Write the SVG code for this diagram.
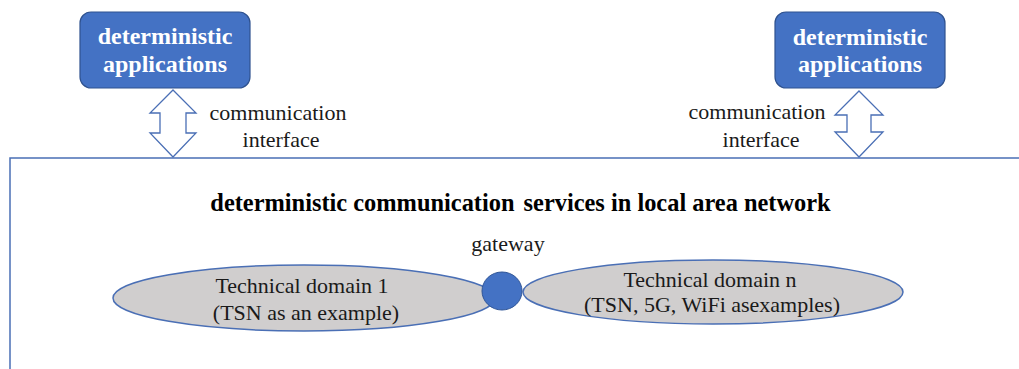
<svg xmlns="http://www.w3.org/2000/svg" width="1019" height="369" viewBox="0 0 1019 369">
  <style>
    text { font-family: "Liberation Serif", "DejaVu Serif", serif; }
    .app { fill: #4472C4; stroke: #2F528F; stroke-width: 1.2; }
    .app-text { font-weight: bold; font-size: 24px; fill: #FFFFFF; text-anchor: middle; }
    .label { font-size: 22px; fill: #1a1a1a; text-anchor: middle; }
    .title { font-weight: bold; font-size: 24.4px; fill: #000000; text-anchor: middle; }
    .iface { fill: #FFFFFF; stroke: #4A6FB5; stroke-width: 1.3; stroke-linejoin: miter; }
    .domain { fill: #D0CECE; stroke: #4A6FB5; stroke-width: 1.5; }
    .gw { fill: #4472C4; stroke: #2F5597; stroke-width: 1; }
    .frame { fill: none; stroke: #4A6FB5; stroke-width: 1.5; }
  </style>

  <!-- local area network frame (open at right and bottom) -->
  <g id="lan">
    <path class="frame" d="M1019,158 L10,158 L10,369"/>
    <text class="title" x="520.5" y="211">deterministic communication <tspan dx="3">services in local area network</tspan></text>
  </g>

  <!-- application nodes -->
  <g id="app-left">
    <rect class="app" x="80" y="12" width="170" height="76" rx="11"/>
    <text class="app-text" x="165" y="44">deterministic</text>
    <text class="app-text" x="165" y="72">applications</text>
  </g>
  <g id="app-right">
    <rect class="app" x="775" y="12" width="170" height="76" rx="11"/>
    <text class="app-text" x="860" y="45">deterministic</text>
    <text class="app-text" x="860" y="72">applications</text>
  </g>

  <!-- communication interface connectors -->
  <g id="connectors">
    <path class="iface" d="M173,90 L196,113 L186,113 L186,133 L196,133 L173,157 L150,133 L160,133 L160,113 L150,113 Z"/>
    <path class="iface" d="M859,91 L883,115 L871,115 L871,132 L883,132 L859,157 L835,132 L847,132 L847,115 L835,115 Z"/>
    <text class="label" x="278" y="120">communication</text>
    <text class="label" x="281" y="147">interface</text>
    <text class="label" x="757" y="119">communication</text>
    <text class="label" x="761" y="147">interface</text>
  </g>

  <!-- technical domains -->
  <g id="domain-1">
    <ellipse class="domain" cx="304" cy="298" rx="191" ry="33"/>
    <text class="label" x="302" y="293">Technical domain 1</text>
    <text class="label" x="306" y="320">(TSN as an example)</text>
  </g>
  <g id="domain-n">
    <ellipse class="domain" cx="713" cy="292" rx="190" ry="32"/>
    <text class="label" x="710" y="287">Technical domain n</text>
    <text class="label" x="712" y="312">(TSN, 5G, WiFi asexamples)</text>
  </g>

  <!-- gateway between domains -->
  <g id="gateway">
    <ellipse class="gw" cx="502" cy="291" rx="20" ry="19"/>
    <text class="label" x="508" y="251">gateway</text>
  </g>
</svg>
